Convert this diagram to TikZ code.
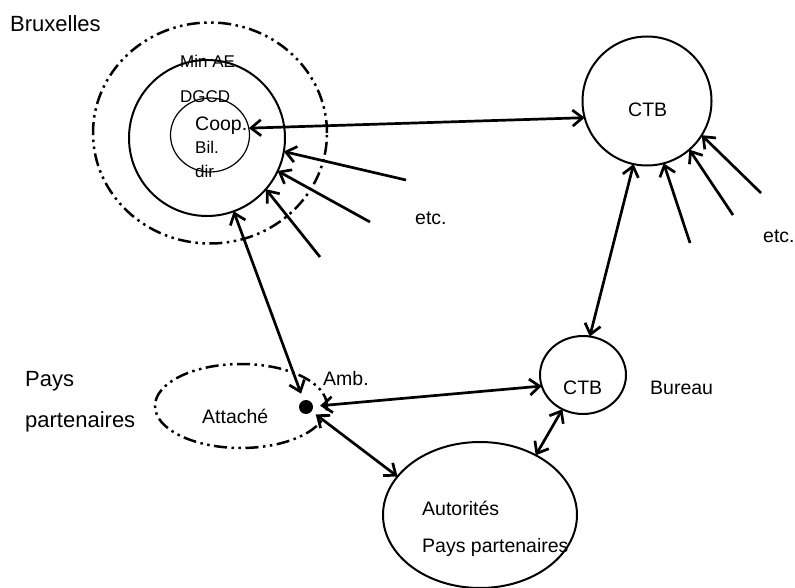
\documentclass[tikz,border=0pt]{standalone}
\usepackage{fontspec}
\setmainfont{Liberation Sans}
\usetikzlibrary{arrows.meta,shapes.geometric}
\tikzset{
  shp/.style={draw, line width=2pt, inner sep=0pt, outer sep=0pt},
  dashdot/.style={draw, line width=2.5pt, inner sep=0pt, outer sep=0pt,
    dash pattern=on 13pt off 4.5pt on 2.5pt off 4.5pt on 2.5pt off 4.5pt},
  arr/.style={line width=2.7pt, -{Straight Barb[length=10pt,width=16pt]}},
  darr/.style={line width=2.7pt, {Straight Barb[length=10pt,width=16pt]}-{Straight Barb[length=10pt,width=16pt]}},
  lbl/.style={anchor=base west, inner sep=0pt, font=\fontsize{19.5}{22}\selectfont},
  big/.style={anchor=base west, inner sep=0pt, font=\fontsize{22}{24}\selectfont},
  sml/.style={anchor=base west, inner sep=0pt, font=\fontsize{17}{19}\selectfont},
}
\begin{document}
\begin{tikzpicture}[x=1pt,y=-1pt]
\useasboundingbox (0,0) rectangle (795,588);
% shapes
\node[dashdot, ellipse, minimum width=234pt, minimum height=221pt] (outer) at (210,133) {};
\node[shp, circle, minimum size=156pt] (mid) at (207,138) {};
\node[draw, line width=1.2pt, ellipse, inner sep=0pt, outer sep=0pt, minimum width=79pt, minimum height=74pt] (inner) at (210,135) {};
\node[shp, circle, minimum size=129pt] (ctb1) at (647,101) {};
\node[shp, ellipse, minimum width=86pt, minimum height=78pt] (ctb2) at (583,375) {};
\node[shp, ellipse, minimum width=194pt, minimum height=146pt] (aut) at (480,515) {};
\node[dashdot, ellipse, minimum width=172pt, minimum height=84pt] (att) at (241,406) {};
\node[circle, fill=black, inner sep=0pt, minimum size=14pt] (dot) at (306,407) {};
% texts
\node[big] (tbrux) at (10,32) {Bruxelles};
\node[big] (tpays) at (25,386) {Pays};
\node[big] (tpart) at (25,427) {partenaires};
\node[sml] (tmin) at (180,68) {Min AE};
\node[sml] (tdgcd) at (180,103) {DGCD};
\node[lbl] (tcoop) at (195,131) {Coop.};
\node[sml] (tbil) at (195,154) {Bil.};
\node[sml] (tdir) at (195,178) {dir};
\node[lbl] (tctb1) at (628,117) {CTB};
\node[lbl] (tctb2) at (563,394) {CTB};
\node[lbl] (tbur) at (650,394) {Bureau};
\node[lbl] (taut) at (422,515) {Autorités};
\node[lbl] (tpp) at (422,552) {Pays partenaires};
\node[lbl] (tatt) at (202,423) {Attaché};
\node[lbl] (tamb) at (323,385) {Amb.};
\node[lbl] (tetc1) at (415,225) {etc.};
\node[lbl] (tetc2) at (763,243) {etc.};
% free ends
\coordinate (e1) at (406,180);
\coordinate (e2) at (370,222);
\coordinate (e3) at (320,257);
\coordinate (f1) at (690,243);
\coordinate (f2) at (733,215);
\coordinate (f3) at (761,193);
% connectors
\draw[darr] (inner.10) -- (ctb1.195);
\draw[arr] (e1) -- (mid.-10);
\draw[arr] (e2) -- (mid.-25);
\draw[arr] (e3) -- (mid.-41);
\draw[darr, shorten >=7pt] (mid.-70) -- (dot);
\draw[darr, shorten <=7pt] (dot) -- (ctb2.195);
\draw[darr, shorten <=5pt] (dot) -- (aut.155);
\draw[darr] (ctb1.258) -- (ctb2.80);
\draw[darr] (ctb2.239) -- (aut.47);
\draw[arr] (f1) -- (ctb1.-75);
\draw[arr] (f2) -- (ctb1.-49);
\draw[arr] (f3) -- (ctb1.-32);
\end{tikzpicture}
\end{document}
